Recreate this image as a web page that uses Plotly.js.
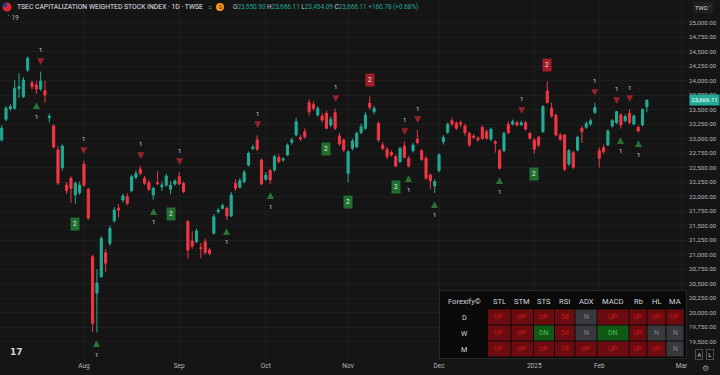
<!DOCTYPE html>
<html><head><meta charset="utf-8">
<script src="https://cdn.plot.ly/plotly-3.0.1.min.js"></script>
<style>html,body{margin:0;padding:0;background:#151515;}#chart{width:720px;height:375px;}</style>
</head><body><div id="chart"></div>
<script>
// ---------------- DATA ----------------
const dates = [
'2024-07-03','2024-07-04','2024-07-05','2024-07-08','2024-07-09','2024-07-10','2024-07-11','2024-07-12','2024-07-15','2024-07-16',
'2024-07-17','2024-07-18','2024-07-19','2024-07-22','2024-07-23','2024-07-26','2024-07-29','2024-07-30','2024-07-31',
'2024-08-01','2024-08-02','2024-08-05','2024-08-06','2024-08-07','2024-08-08','2024-08-09','2024-08-12','2024-08-13','2024-08-14',
'2024-08-15','2024-08-16','2024-08-19','2024-08-20','2024-08-21','2024-08-22','2024-08-23','2024-08-26','2024-08-27','2024-08-28',
'2024-08-29','2024-08-30',
'2024-09-02','2024-09-03','2024-09-04','2024-09-05','2024-09-06','2024-09-09','2024-09-10','2024-09-11','2024-09-12','2024-09-13',
'2024-09-16','2024-09-18','2024-09-19','2024-09-20','2024-09-23','2024-09-24','2024-09-25','2024-09-26','2024-09-27','2024-09-30',
'2024-10-01','2024-10-04','2024-10-07','2024-10-08','2024-10-09','2024-10-11','2024-10-14','2024-10-15','2024-10-16','2024-10-17',
'2024-10-18','2024-10-21','2024-10-22','2024-10-23','2024-10-24','2024-10-25','2024-10-28','2024-10-29','2024-10-30',
'2024-11-01','2024-11-04','2024-11-05','2024-11-06','2024-11-07','2024-11-08','2024-11-11','2024-11-12','2024-11-13','2024-11-14',
'2024-11-15','2024-11-18','2024-11-19','2024-11-20','2024-11-21','2024-11-22','2024-11-25','2024-11-26','2024-11-27','2024-11-28',
'2024-11-29',
'2024-12-02','2024-12-03','2024-12-04','2024-12-05','2024-12-06','2024-12-09','2024-12-10','2024-12-11','2024-12-12','2024-12-13',
'2024-12-16','2024-12-17','2024-12-18','2024-12-19','2024-12-20','2024-12-23','2024-12-24','2024-12-25','2024-12-26','2024-12-27',
'2024-12-30','2024-12-31',
'2025-01-02','2025-01-03','2025-01-06','2025-01-07','2025-01-08','2025-01-09','2025-01-10','2025-01-13','2025-01-14','2025-01-15',
'2025-01-16','2025-01-17','2025-01-20','2025-01-21','2025-01-22',
'2025-02-03','2025-02-04','2025-02-05','2025-02-06','2025-02-07','2025-02-10','2025-02-11','2025-02-12','2025-02-13','2025-02-14',
'2025-02-17','2025-02-18'
];
const upcomingSessions = ['2025-02-19','2025-02-20','2025-02-21','2025-02-24','2025-02-25','2025-02-26','2025-02-27','2025-03-03'];

const open = [
22977,23334,23517,23524,23862,23724,24184,23966,23926,23857,
23828,23362,23219,22805,22500,22200,22317,22030,22070,22560,
22133,20966,20340,20621,21034,21197,21586,21800,21943,22000,
22103,22334,22472,22317,22242,22030,22240,22172,22200,22127,
22218,22345,22231,21569,21236,21224,21120,21224,21081,21369,
21741,21800,21800,21667,22231,22162,22259,22547,22832,22978,
22633,22302,22452,22460,22679,22634,22719,22938,23064,23020,
23121,23621,23593,23409,23391,23438,23236,23448,23045,22978,
22403,22834,22862,23103,23179,23610,23466,23266,22890,22817,
22760,22690,22603,22874,22662,22793,22990,22793,22662,22374,
22184,22448,22948,23110,23310,23266,23276,23219,23093,23045,
23007,23197,23121,22990,22948,22793,22793,23248,23253,23276,
23241,23276,23093,22978,23024,23121,23822,23524,23403,23064,
23064,22564,22759,22805,23179,23197,23253,23455,22793,22845,
22891,23219,23276,23409,23310,23438,23253,23197,23236,23550.90
];
const high = [
23230,23560,23600,24010,24130,24060,24416,24000,24000,24155,
24000,23430,23250,22870,22900,22250,22350,22260,22260,22620,
22150,21000,20750,21320,21100,21500,21820,21870,22050,22060,
22380,22450,22530,22360,22290,22170,22440,22260,22400,22270,
22300,22425,22260,21600,21400,21450,21200,21280,21120,21700,
21800,21880,21830,22080,22300,22320,22460,22780,22900,23058,
22660,22420,22480,22720,22730,22680,22920,23020,23360,23060,
23180,23680,23640,23560,23440,23480,23380,23520,23100,23000,
22800,23000,23120,23260,23460,23730,23560,23300,22940,22860,
22800,22720,22860,22950,22700,22930,23150,22820,22700,22400,
22300,22750,23060,23280,23360,23300,23310,23260,23120,23080,
23040,23230,23160,23190,22980,22820,23120,23300,23330,23310,
23310,23310,23120,23010,23050,23580,23990,23620,23430,23100,
23080,22820,22790,23050,23220,23300,23350,23620,22850,22900,
23160,23340,23480,23440,23420,23510,23420,23230,23520,23666.11
];
const low = [
22950,23300,23480,23500,23700,23700,24150,23850,23770,23820,
23620,23280,22830,22200,22450,22050,21890,21880,22030,22170,
21600,19662,19660,20600,20700,21150,21550,21640,21900,21850,
22080,22300,22370,22200,22100,21950,22200,22100,22170,22040,
22190,22200,22060,20930,21100,21200,20940,21000,20990,21350,
21700,21780,21600,21650,22100,22140,22230,22520,22800,22790,
22200,22280,22215,22430,22580,22600,22700,22900,23040,22960,
23000,23400,23480,23380,23280,23160,23200,23150,22880,22770,
22250,22800,22840,23080,23150,23500,23420,22950,22800,22650,
22690,22510,22580,22660,22505,22760,22900,22620,22290,22130,
22065,22420,22900,23080,23220,23150,23200,23050,22860,22990,
22950,22980,22980,22960,22760,22470,22770,23080,23230,23210,
23220,23140,22980,22740,22850,23100,23600,23360,23040,22960,
22440,22530,22480,22780,22930,23170,23220,23420,22500,22740,
22870,23190,23250,23175,23280,23250,23230,23110,23210,23454.09
];
const close = [
23179,23524,23552,23869,23897,24012,24386,23897,23857,23995,
23753,23391,22857,22237,22874,22103,22145,22231,22200,22199,
21633,19817,20512,21283,20852,21455,21770,21770,22012,21886,
22345,22403,22403,22231,22127,22145,22225,22200,22357,22200,
22270,22218,22087,21081,21150,21409,21110,21040,21024,21655,
21770,21845,21667,22030,22145,22277,22420,22748,22855,22817,
22219,22371,22288,22690,22603,22650,22890,22978,23293,22995,
23034,23466,23524,23524,23322,23179,23334,23179,22907,22805,
22776,22960,23093,23207,23409,23541,23524,22978,22834,22690,
22720,22529,22834,22679,22529,22890,22931,22645,22317,22277,
22259,22719,23024,23248,23253,23179,23253,23103,22891,23024,
22978,23007,23007,23162,22920,22490,23093,23103,23293,23236,
23276,23167,23007,22817,22890,23552,23627,23391,23064,22990,
22474,22793,22507,23024,23121,23266,23310,23535,22662,22776,
23134,23310,23466,23236,23380,23276,23391,23133,23505.33,23666.11
];

// indicator signals (dates of the bars they belong to)
const buySignal1  = ['2024-07-15','2024-08-06','2024-08-23','2024-09-18','2024-10-04','2024-11-21','2024-11-29','2024-12-20','2025-02-10','2025-02-14'];
const sellSignal1 = ['2024-07-16','2024-08-01','2024-08-20','2024-09-02','2024-09-27','2024-10-28','2024-11-20','2024-11-25','2024-12-27','2025-01-22','2025-02-07','2025-02-12'];
const buySignal2  = ['2024-07-30','2024-08-29','2024-10-24','2024-11-01','2024-11-18','2025-01-02'];
const sellSignal2 = ['2024-11-08','2025-01-07'];

const monthLabels = ['Aug','Sep','Oct','Nov','Dec','2025','Feb','Mar'];
const priceLabelMin = 19500, priceLabelMax = 25000, priceStep = 250;

const tableHeader = ['Forexify©','STL','STM','STS','RSI','ADX','MACD','Rb','HL','MA'];
const tableRowLabels = ['D','W','M'];
const tableRowD = ['UP','UP','UP','58','N','UP','UP','UP','UP'];
const tableRowW = ['UP','UP','DN','54','N','DN','UP','N','N'];
const tableRowM = ['UP','UP','UP','74','UP','UP','UP','UP','N'];

const symbolTitle = 'TSEC CAPITALIZATION WEIGHTED STOCK INDEX · 1D · TWSE';
const currency = 'TWD';
const intervalCount = '19';

// ---------------- LAYOUT HELPERS ----------------
const W = 720, H = 375, ML = 0, MR = 32, MT = 0, MB = 15;
const PW = W - ML - MR, PH = H - MT - MB;
const px = p => (p - ML) / PW;
const py = p => 1 - (p - MT) / PH;
const UP = '#22ab94', DOWN = '#f23645';
const TXT = '#b2b5be';
const FONT = 'Roboto, "Noto Sans", sans-serif';

const xIdx = dates.map((d, i) => i);

// month ticks
const allSessions = dates.concat(upcomingSessions);
const tickvals = [];
for (let i = 1; i < allSessions.length; i++) {
  if (allSessions[i].slice(0, 7) !== allSessions[i - 1].slice(0, 7)) tickvals.push(i);
}
const priceTicks = [];
for (let v = priceLabelMin; v <= priceLabelMax; v += priceStep) priceTicks.push(v);

const annotations = [];
const shapes = [];

function sig(list, kind) {
  list.forEach(d => {
    const i = dates.indexOf(d);
    if (i < 0) return;
    if (kind === 'buy1') {
      annotations.push({x: i, y: low[i], xref: 'x', yref: 'y', yshift: -11, text: '▲', showarrow: false,
        font: {family: 'DejaVu Sans', size: 9, color: '#2b7335'}});
      annotations.push({x: i, y: low[i], xref: 'x', yref: 'y', yshift: -22, text: '1', showarrow: false,
        font: {family: FONT, size: 6, color: '#d1d4dc'}});
    } else if (kind === 'sell1') {
      annotations.push({x: i, y: high[i], xref: 'x', yref: 'y', yshift: 11, text: '▼', showarrow: false,
        font: {family: 'DejaVu Sans', size: 9, color: '#96222a'}});
      annotations.push({x: i, y: high[i], xref: 'x', yref: 'y', yshift: 22, text: '1', showarrow: false,
        font: {family: FONT, size: 6, color: '#d1d4dc'}});
    } else if (kind === 'buy2') {
      annotations.push({x: i, y: low[i], xref: 'x', yref: 'y', yshift: -20, text: '2', showarrow: false,
        bgcolor: '#1f7030', borderpad: 2, font: {family: FONT, size: 6.5, color: '#e6e6e6'}});
    } else {
      annotations.push({x: i, y: high[i], xref: 'x', yref: 'y', yshift: 16, text: '2', showarrow: false,
        bgcolor: '#a11f28', borderpad: 2, font: {family: FONT, size: 6.5, color: '#e6e6e6'}});
    }
  });
}
sig(buySignal1, 'buy1'); sig(sellSignal1, 'sell1'); sig(buySignal2, 'buy2'); sig(sellSignal2, 'sell2');

// ---- header ----
function pxAnn(x, y, text, opts) {
  annotations.push(Object.assign({xref: 'paper', yref: 'paper', x: px(x), y: py(y), text: text,
    showarrow: false, xanchor: 'left', yanchor: 'middle', font: {family: FONT, size: 7, color: TXT}}, opts || {}));
}
// flag icon
shapes.push({type: 'circle', xref: 'paper', yref: 'paper', x0: px(2.5), x1: px(11.5), y0: py(11.5), y1: py(2.5),
  fillcolor: '#e3262e', line: {width: 0}});
shapes.push({type: 'path', xref: 'paper', yref: 'paper',
  path: `M ${px(7)} ${py(7)} L ${px(2.6)} ${py(7)} Q ${px(2.6)} ${py(2.6)} ${px(7)} ${py(2.6)} Z`,
  fillcolor: '#1d3f9e', line: {width: 0}});
pxAnn(14.5, 7, symbolTitle, {font: {family: FONT, size: 6.8, color: '#e0e3eb'}});
pxAnn(206.5, 7, '=', {font: {family: FONT, size: 8, color: '#6f8f63'}});
shapes.push({type: 'circle', xref: 'paper', yref: 'paper', x0: px(216), x1: px(224), y0: py(11), y1: py(3),
  fillcolor: '#f39a1b', line: {width: 0}});
pxAnn(220, 7, 'D', {xanchor: 'center', font: {family: FONT, size: 5, color: '#3b2200'}});
const last = close.length - 1;
const fmt = v => v.toLocaleString('en-US', {minimumFractionDigits: 2, maximumFractionDigits: 2});
const chg = close[last] - close[last - 1];
const chgPct = chg / close[last - 1] * 100;
const g = s => `<span style="color:${UP}">${s}</span>`;
pxAnn(231, 7, 'O' + g(fmt(open[last])) + ' H' + g(fmt(high[last])) + ' L' + g(fmt(low[last])) + ' C' + g(fmt(close[last])) +
  ' ' + g((chg >= 0 ? '+' : '') + fmt(chg) + ' (' + (chg >= 0 ? '+' : '') + chgPct.toFixed(2) + '%)'),
  {font: {family: FONT, size: 6.4, color: '#d1d4dc'}});
pxAnn(6, 18, '˅ ' + intervalCount, {font: {family: FONT, size: 6.5, color: TXT}});

// currency box
pxAnn(703, 7.5, currency + ' ˅', {xanchor: 'center', bgcolor: '#202020', borderpad: 2,
  font: {family: FONT, size: 6, color: '#d1d4dc'}});

// last price label
annotations.push({xref: 'paper', yref: 'y', x: px(688.5), y: close[last], text: fmt(close[last]), showarrow: false,
  xanchor: 'left', yanchor: 'middle', bgcolor: UP, borderpad: 1.3, font: {family: FONT, size: 6, color: '#ffffff'}});

// logo + buttons
pxAnn(8, 351.5, '<b>17</b>', {font: {family: 'DejaVu Sans', size: 9, color: '#d1d4dc'}});
pxAnn(699, 354, 'A', {xanchor: 'center', bgcolor: '#151515', bordercolor: '#4a4d55', borderwidth: 1, borderpad: 1.2,
  font: {family: FONT, size: 6, color: '#d1d4dc'}});
pxAnn(710, 354, 'L', {xanchor: 'center', bgcolor: '#151515', bordercolor: '#4a4d55', borderwidth: 1, borderpad: 1.2,
  font: {family: FONT, size: 6, color: '#d1d4dc'}});
pxAnn(705, 368, '⚙', {xanchor: 'center', font: {family: 'DejaVu Sans', size: 8, color: '#9598a1'}});

// ---- table ----
const colEdges = [[441, 487], [488, 510.5], [511.5, 533], [534, 554], [555, 574.5], [575.5, 596.5], [597.5, 628.5], [629.5, 646.5], [647.5, 665.5], [666.5, 683.5]];
const rowEdges = [[292, 308.5], [309.5, 324.5], [325.5, 340.5], [341.5, 356.5]];
shapes.push({type: 'rect', xref: 'paper', yref: 'paper', x0: px(439.5), x1: px(686.5), y0: py(358.5), y1: py(290.5),
  fillcolor: '#0a0a0a', line: {color: '#262626', width: 1}});
tableHeader.forEach((h, c) => {
  const cx = (colEdges[c][0] + colEdges[c][1]) / 2;
  pxAnn(cx, 301, h, {xanchor: 'center', font: {family: FONT, size: 7.6, color: '#d1d4dc'}});
});
const tableRows = [tableRowD, tableRowW, tableRowM];
tableRows.forEach((row, r) => {
  const [y0, y1] = rowEdges[r + 1];
  const cy = (y0 + y1) / 2;
  pxAnn((colEdges[0][0] + colEdges[0][1]) / 2, cy, tableRowLabels[r], {xanchor: 'center',
    font: {family: FONT, size: 7.2, color: '#d1d4dc'}});
  row.forEach((v, k) => {
    const c = k + 1;
    let bg = '#6c0c10', fg = '#d3141d';
    if (v === 'N') { bg = '#37393c'; fg = '#7d8185'; }
    else if (v === 'DN') { bg = '#115a16'; fg = '#3fc24a'; }
    shapes.push({type: 'rect', xref: 'paper', yref: 'paper', x0: px(colEdges[c][0]), x1: px(colEdges[c][1]),
      y0: py(y1), y1: py(y0), fillcolor: bg, line: {width: 0}});
    pxAnn((colEdges[c][0] + colEdges[c][1]) / 2, cy, v, {xanchor: 'center',
      font: {family: FONT, size: 7, color: fg}});
  });
});

// ---------------- PLOT ----------------
const trace = {
  type: 'candlestick', x: xIdx, open: open, high: high, low: low, close: close,
  increasing: {line: {color: UP, width: 1}, fillcolor: UP},
  decreasing: {line: {color: DOWN, width: 1}, fillcolor: DOWN},
  whiskerwidth: 0, hoverinfo: 'skip', showlegend: false
};

const layout = {
  width: W, height: H,
  margin: {l: ML, r: MR, t: MT, b: MB, pad: 0},
  paper_bgcolor: '#151515', plot_bgcolor: '#151515',
  font: {family: FONT, color: TXT},
  showlegend: false,
  xaxis: {
    type: 'linear', range: [-0.39, 158.5], rangeslider: {visible: false},
    tickmode: 'array', tickvals: tickvals, ticktext: monthLabels,
    showgrid: true, gridcolor: '#1d1d1d', gridwidth: 1, zeroline: false, showline: false,
    ticks: '', tickfont: {family: FONT, size: 6.5, color: TXT}, fixedrange: true
  },
  yaxis: {
    side: 'right', range: [19185, 25391], tickmode: 'array', tickvals: priceTicks,
    tickformat: ',.2f', showgrid: true, gridcolor: '#1d1d1d', gridwidth: 1, zeroline: false, showline: false,
    ticks: '', ticklabelstandoff: 0,
    tickfont: {family: FONT, size: 6.2, color: TXT}, fixedrange: true
  },
  shapes: shapes,
  annotations: annotations
};

Plotly.newPlot('chart', [trace], layout, {displayModeBar: false, staticPlot: true});
</script>
</body></html>
